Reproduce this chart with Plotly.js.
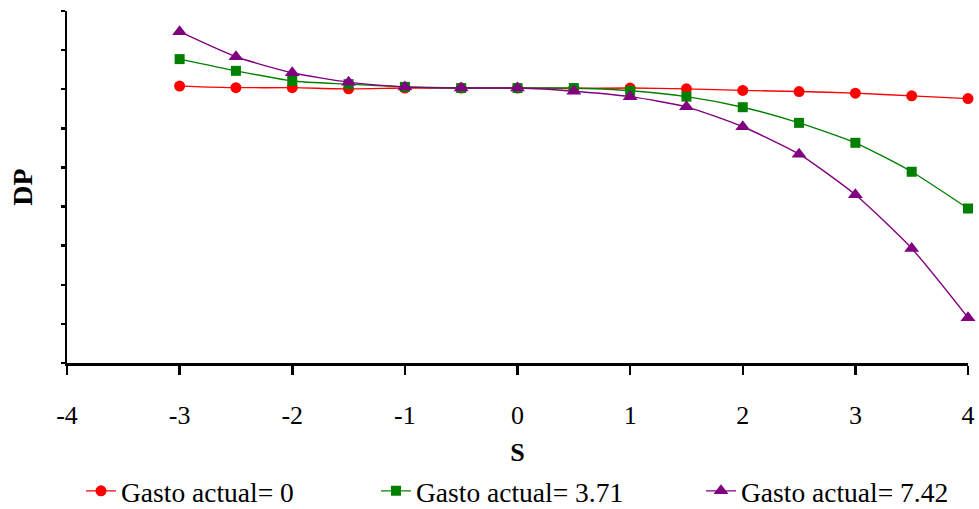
<!DOCTYPE html>
<html><head><meta charset="utf-8">
<script src="https://cdn.plot.ly/plotly-3.0.1.min.js"></script>
<style>html,body{margin:0;padding:0;background:#fff;}#chart{width:979px;height:509px;}</style>
</head><body><div id="chart"></div>
<script>
const sValues = [-3, -2.5, -2, -1.5, -1, -0.5, 0, 0.5, 1, 1.5, 2, 2.5, 3, 3.5, 4];
const seriesNames = ["Gasto actual= 0", "Gasto actual= 3.71", "Gasto actual= 7.42"];
const dpGasto0 = [7.08, 7.04, 7.04, 7.01, 7.03, 7.03, 7.03, 7.02, 7.03, 7.01, 6.97, 6.94, 6.90, 6.83, 6.76];
const dpGasto371 = [7.77, 7.47, 7.21, 7.13, 7.06, 7.03, 7.03, 7.03, 6.96, 6.81, 6.54, 6.14, 5.63, 4.89, 3.95];
const dpGasto742 = [8.47, 7.83, 7.42, 7.18, 7.06, 7.03, 7.03, 6.95, 6.81, 6.55, 6.04, 5.34, 4.30, 2.93, 1.16];
const xTicks = [-4, -3, -2, -1, 0, 1, 2, 3, 4];

const FONT = "'Liberation Serif', 'Times New Roman', serif";
const colors = ["#ff0000", "#008000", "#800080"];
const symbols = ["circle", "square", "triangle-up"];
const sizes = [11, 10, 13];
const legendIds = ["legend", "legend2", "legend3"];
const data = [dpGasto0, dpGasto371, dpGasto742].map((ys, i) => ({
  x: sValues, y: ys, name: seriesNames[i], type: "scatter", mode: "lines+markers",
  line: {color: colors[i], width: 1.4, shape: "spline", smoothing: 0.6},
  marker: {color: colors[i], symbol: symbols[i], size: sizes[i]},
  cliponaxis: false, legend: legendIds[i]
}));

function leg(xPx) {
  return {orientation: "h", x: (xPx - 67) / 901, xanchor: "left", y: -0.3636, yanchor: "middle",
    font: {size: 27.5, family: FONT, color: "#000"}, bgcolor: "rgba(0,0,0,0)", itemwidth: 30};
}
const layout = {
  width: 979, height: 509,
  margin: {l: 67, r: 11, t: 11, b: 146, autoexpand: false},
  paper_bgcolor: "#fff", plot_bgcolor: "#fff",
  font: {family: FONT, color: "#000"},
  showlegend: true,
  legend: leg(81),
  legend2: leg(376),
  legend3: leg(701),
  xaxis: {range: [-4, 4], tickvals: xTicks, ticktext: xTicks.map(String),
    showgrid: false, zeroline: false, showline: true, linecolor: "#000", linewidth: 2.5,
    ticks: "outside", ticklen: 9, tickwidth: 2.5, tickcolor: "#000", ticklabelstandoff: 18,
    tickfont: {size: 26, family: FONT},
    title: {text: "<b>S</b>", font: {size: 26, family: FONT}, standoff: 14}},
  yaxis: {range: [0, 9], dtick: 1, showticklabels: false,
    showgrid: false, zeroline: false, showline: true, linecolor: "#000", linewidth: 2.5,
    ticks: "outside", ticklen: 4, tickwidth: 2.5, tickcolor: "#000",
    title: {text: "<b>DP</b>", font: {size: 28, family: FONT}, standoff: 20}}
};
Plotly.newPlot("chart", data, layout, {displayModeBar: false, staticPlot: true});
</script></body></html>
